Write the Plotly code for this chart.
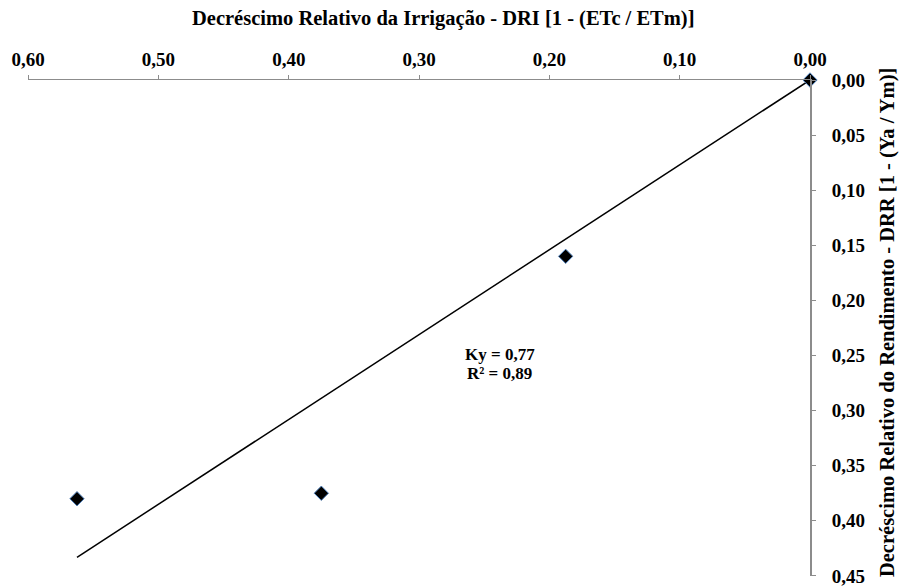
import plotly.graph_objects as go

# Relative irrigation deficit (DRI) vs relative yield deficit (DRR)
dri = [0.0, 0.1875, 0.375, 0.5625]
drr = [0.0, 0.16, 0.375, 0.38]
KY = 0.77
R2 = 0.89

x_ticks = [0.60, 0.50, 0.40, 0.30, 0.20, 0.10, 0.00]
y_ticks = [0.00, 0.05, 0.10, 0.15, 0.20, 0.25, 0.30, 0.35, 0.40, 0.45]

x_title = "Decréscimo Relativo da Irrigação - DRI [1 - (ETc / ETm)]"
y_title = "Decréscimo Relativo do Rendimento - DRR [1 - (Ya / Ym)]"

FONT = "Liberation Serif"

# regression through the origin: DRR = Ky * DRI
line_x = [0.0, max(dri)]
line_y = [KY * v for v in line_x]

fig = go.Figure()
fig.add_trace(go.Scatter(
    x=line_x, y=line_y, mode="lines",
    line=dict(color="black", width=1.5),
    hoverinfo="skip", showlegend=False,
))
fig.add_trace(go.Scatter(
    x=dri, y=drr, mode="markers", cliponaxis=False,
    marker=dict(symbol="diamond", size=11, color="black",
                line=dict(color="#4F81BD", width=1)),
    showlegend=False,
))

axis_font = dict(family=FONT, size=19, color="black", weight="bold")
title_font = dict(family=FONT, size=20.5, color="black", weight="bold")
eq_font = dict(family=FONT, size=17, color="black", weight="bold")


def comma(v):
    return f"{v:.2f}".replace(".", ",")


fig.update_layout(
    width=905, height=587,
    margin=dict(l=28, r=95, t=80, b=11),
    paper_bgcolor="white", plot_bgcolor="white",
    separators=",.",
    xaxis=dict(
        range=[0.6001, 0.0], side="top", automargin=False,
        tickvals=x_ticks, tickformat=".2f",
        tickfont=axis_font, ticklabelstandoff=1,
        ticklabeloverflow="allow",
        showline=True, linecolor="#8c8c8c", linewidth=1,
        ticks="outside", ticklen=4, tickcolor="#8c8c8c",
        showgrid=False, zeroline=False,
    ),
    yaxis=dict(
        range=[0.4501, 0.0], side="right", automargin=False,
        tickvals=y_ticks, tickformat=".2f",
        tickfont=axis_font, ticklabelstandoff=12,
        ticklabeloverflow="allow",
        showline=True, linecolor="#8c8c8c", linewidth=2,
        ticks="outside", ticklen=4, tickcolor="#8c8c8c",
        showgrid=False, zeroline=False,
    ),
    annotations=[
        dict(text=x_title, xref="paper", yref="paper",
             x=0.531, y=1.123, xanchor="center", yanchor="middle",
             showarrow=False, font=title_font),
        dict(text=y_title, xref="paper", yref="paper",
             x=1.0985, y=0.51, xanchor="center", yanchor="middle",
             textangle=-90, showarrow=False, font=title_font),
        dict(text=f"Ky = {comma(KY)}", x=0.238, y=0.2487, xref="x", yref="y",
             xanchor="center", yanchor="middle", showarrow=False,
             font=eq_font),
        dict(text=f"R² = {comma(R2)}", x=0.238, y=0.2659, xref="x", yref="y",
             xanchor="center", yanchor="middle", showarrow=False,
             font=eq_font),
    ],
)

fig.write_html("out.html")
